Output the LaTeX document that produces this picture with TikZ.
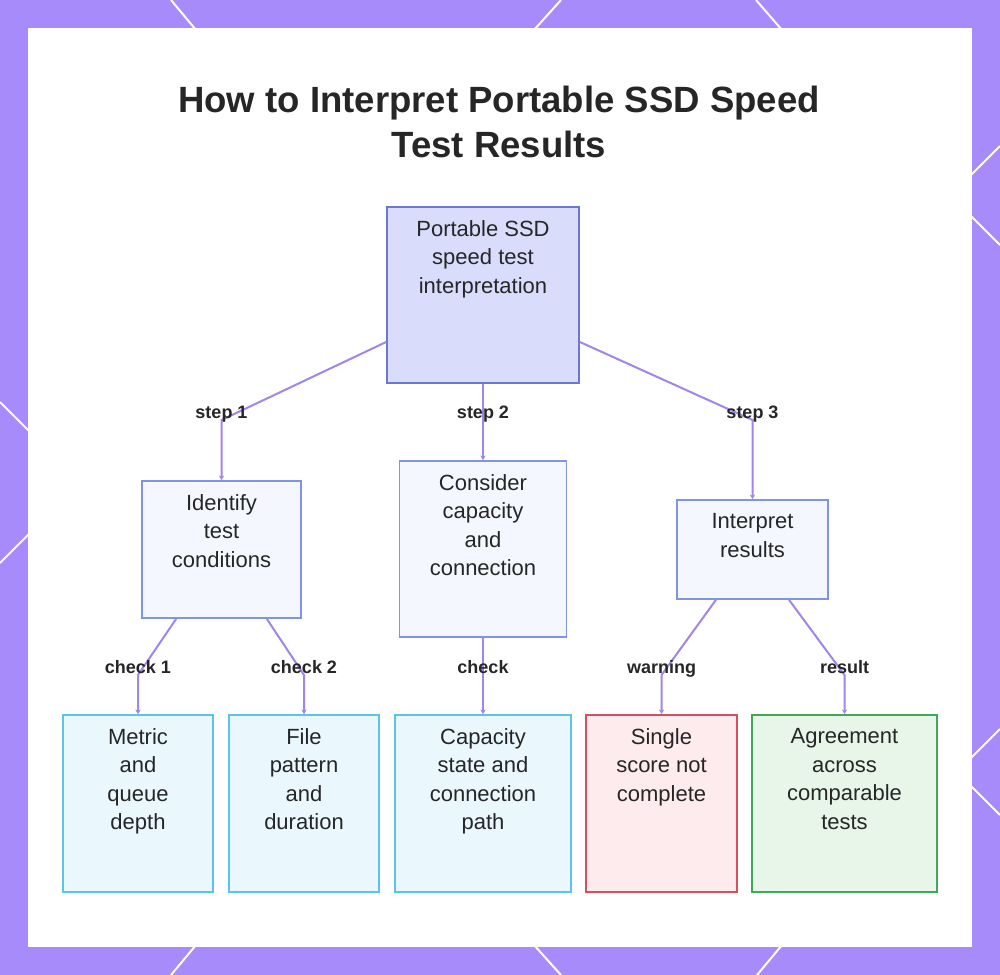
\documentclass[tikz,border=0pt]{standalone}
\usepackage{fontspec}
\setmainfont{Liberation Sans}
\usetikzlibrary{arrows.meta, positioning}
\definecolor{sframe}{HTML}{A78BFA}
\definecolor{slink}{HTML}{A185E8}
\definecolor{stext}{HTML}{262626}
\definecolor{sroot}{HTML}{D9DCFB}
\definecolor{srootline}{HTML}{6B78D2}
\definecolor{smid}{HTML}{F5F7FF}
\definecolor{smidline}{HTML}{7F94E4}
\definecolor{sleaf}{HTML}{EAF7FD}
\definecolor{sleafline}{HTML}{5CC4E6}
\definecolor{swarn}{HTML}{FDEBEE}
\definecolor{swarnline}{HTML}{D4525F}
\definecolor{sok}{HTML}{E8F6EA}
\definecolor{sokline}{HTML}{3EA85B}
\tikzset{
  box/.style={draw, line width=1.3pt, inner sep=0pt},
  txt/.style={label={[anchor=north, inner sep=0pt, yshift=-10.5pt, align=center,
              text=stext, font=\fontsize{16.5}{21.4}\selectfont]north:#1}},
  rootbox/.style={box, draw=srootline, fill=sroot},
  midbox/.style={box, draw=smidline, fill=smid},
  leafbox/.style={box, draw=sleafline, fill=sleaf, minimum height=132.75pt},
  warnbox/.style={box, draw=swarnline, fill=swarn, minimum height=132.75pt},
  okbox/.style={box, draw=sokline, fill=sok, minimum height=132.75pt},
  link/.style={line width=1.5pt, slink, -{Stealth[length=3.5pt,width=4pt]}},
  lbl/.style={font=\bfseries\fontsize{13.5}{16}\selectfont, text=stext, anchor=base, yshift=1.5pt, inner sep=0pt},
  hexline/.style={white, line width=1.5pt},
}
\begin{document}
\begin{tikzpicture}[x=0.75pt, y=-0.75pt]
  \useasboundingbox (0,0) rectangle (1000,975);
  % frame
  \fill[sframe] (0,0) rectangle (1000,975);
  \draw[hexline] (171,0) -- (196,30);
  \draw[hexline] (561,0) -- (534,30);
  \draw[hexline] (756,0) -- (782,30);
  \draw[hexline] (1000,146) -- (970,176);
  \draw[hexline] (970,215) -- (1000,245);
  \draw[hexline] (1000,729) -- (970,759);
  \draw[hexline] (970,785) -- (1000,815);
  \draw[hexline] (196,945) -- (171,975);
  \draw[hexline] (534,945) -- (561,975);
  \draw[hexline] (782,945) -- (757,975);
  \draw[hexline] (0,402) -- (30,432);
  \draw[hexline] (30,533) -- (0,563);
  \fill[white] (28,28) rectangle (972,947);

  \node[align=center, text=stext, inner sep=0pt, font=\bfseries\fontsize{27.4}{33.75}\selectfont] (title) at (499,121.5)
    {How to Interpret Portable SSD Speed\\Test Results};

  \node[rootbox, minimum width=144pt, minimum height=132pt, txt={Portable SSD\\speed test\\interpretation}] (root) at (483,295) {};

  \node[midbox, minimum width=119.25pt, minimum height=102.75pt, txt={Identify\\test\\conditions}] (cond) at (221.5,549.5) {};
  \node[midbox, minimum width=125.25pt, minimum height=132pt, txt={Consider\\capacity\\and\\connection}] (cap) at (483,549) {};
  \node[midbox, minimum width=113.25pt, minimum height=74.25pt, txt={Interpret\\results}] (interp) at (752.5,549.5) {};

  \node[leafbox, minimum width=112.5pt, txt={Metric\\and\\queue\\depth}] (metric) at (138,803.5) {};
  \node[leafbox, minimum width=112.5pt, txt={File\\pattern\\and\\duration}] (pattern) at (304,803.5) {};
  \node[leafbox, minimum width=132pt, txt={Capacity\\state and\\connection\\path}] (path) at (483,803.5) {};
  \node[warnbox, minimum width=113.25pt, txt={Single\\score not\\complete}] (single) at (661.5,803.5) {};
  \node[okbox, minimum width=138.75pt, txt={Agreement\\across\\comparable\\tests}] (agree) at (844.5,803.5) {};

  \coordinate (s1) at (221.5,420);
  \coordinate (s2) at (483,420);
  \coordinate (s3) at (752.5,420);
  \coordinate (k1) at (138,675);
  \coordinate (k2) at (304,675);
  \coordinate (k3) at (483,675);
  \coordinate (k4) at (661.5,675);
  \coordinate (k5) at (844.5,675);

  \draw[link] ([yshift=-35.25pt]root.west) -- (s1) node[lbl] {step 1} -- (cond);
  \draw[link] (root) -- (s2) node[lbl] {step 2} -- (cap);
  \draw[link] ([yshift=-35.25pt]root.east) -- (s3) node[lbl] {step 3} -- (interp);
  \draw[link] ([xshift=-34pt]cond.south) -- (k1) node[lbl] {check 1} -- (metric);
  \draw[link] ([xshift=34pt]cond.south) -- (k2) node[lbl] {check 2} -- (pattern);
  \draw[link] (cap) -- (k3) node[lbl] {check} -- (path);
  \draw[link] ([xshift=-27.4pt]interp.south) -- (k4) node[lbl] {warning} -- (single);
  \draw[link] ([xshift=27.4pt]interp.south) -- (k5) node[lbl] {result} -- (agree);
\end{tikzpicture}
\end{document}
